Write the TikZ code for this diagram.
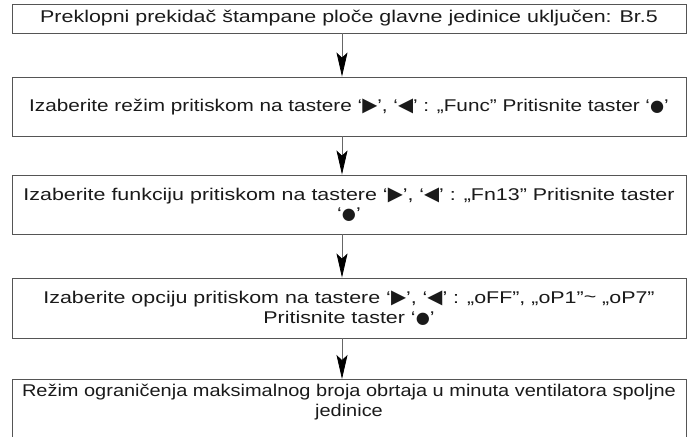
\documentclass[tikz,border=0pt]{standalone}
\usepackage{fontspec}
\setmainfont[FakeStretch=1.26]{Liberation Sans}
\newfontfamily\midf[FakeStretch=1.22]{Liberation Sans}
\newfontfamily\lastf[FakeStretch=1.175]{Liberation Sans}
\newfontfamily\trif[Scale=1.15]{DejaVu Sans}
\newfontfamily\symf[Scale=0.95]{DejaVu Sans}
\usetikzlibrary{arrows.meta}
\definecolor{boxline}{HTML}{555555}
\definecolor{txt}{HTML}{1A1A1A}
\newcommand{\rt}{{\trif ▶}}
\newcommand{\lt}{{\trif ◀}}
\newcommand{\dt}{{\symf ●}}
\tikzset{
  stepbox/.style={draw=boxline, line width=0.9pt, minimum width=674pt, inner sep=0pt, text=txt, align=center, font=\fontsize{17}{19.5}\selectfont},
  steptext/.style={inner sep=0pt, text=txt, align=center, font=\fontsize{17}{19.5}\selectfont\lastf},
  arr/.style={draw=gray!80!black, line width=0.8pt, -{Stealth[length=24pt,width=11pt,inset=5pt,color=black]}}
}
\begin{document}
\begin{tikzpicture}[x=1pt,y=-1pt]
\useasboundingbox (0,0) rectangle (695,436);
\clip (0,0) rectangle (695,436);
\node[stepbox, minimum height=29pt] (b1) at (349,18.5) {Preklopni prekidač štampane ploče glavne jedinice uključen: Br.5};
\node[stepbox, minimum height=59pt] (b2) at (349,106.5) {\midf Izaberite režim pritiskom na tastere ‘\rt’, ‘\lt’ : „Func” Pritisnite taster ‘\dt’};
\node[stepbox, minimum height=59pt] (b3) at (349,204.5) {Izaberite funkciju pritiskom na tastere ‘\rt’, ‘\lt’ : „Fn13” Pritisnite taster\\‘\dt’};
\node[stepbox, minimum height=60pt] (b4) at (349,308) {Izaberite opciju pritiskom na tastere ‘\rt’, ‘\lt’ : „oFF”, „oP1”\raisebox{0.1ex}{\textasciitilde} „oP7”\\Pritisnite taster ‘\dt’};
\node[stepbox, minimum height=80pt, anchor=north] (b5) at (349,379) {};
\node[steptext] (t5) at (349,402) {Režim ograničenja maksimalnog broja obrtaja u minuta ventilatora spoljne\\jedinice};
\draw[arr] ([xshift=-7pt]b1.south) -- ([xshift=-7pt]b2.north);
\draw[arr] ([xshift=-7pt]b2.south) -- ([xshift=-7pt]b3.north);
\draw[arr] ([xshift=-7pt]b3.south) -- ([xshift=-7pt]b4.north);
\draw[arr] ([xshift=-7pt]b4.south) -- ([xshift=-7pt]b5.north);
\end{tikzpicture}
\end{document}
